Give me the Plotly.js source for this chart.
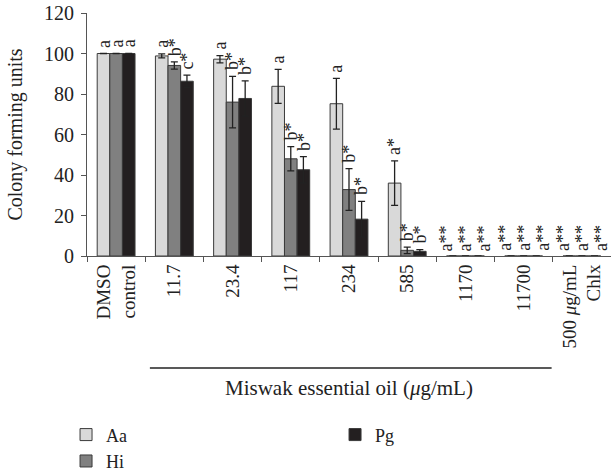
<!DOCTYPE html>
<html>
<head>
<meta charset="utf-8">
<script src="https://cdn.plot.ly/plotly-3.0.1.min.js"></script>
<style>html,body{margin:0;padding:0;background:#fff;}#chart{width:611px;height:472px;}</style>
</head>
<body>
<div id="chart"></div>
<script>
const categories = ["DMSO<br>control", "11.7", "23.4", "117", "234", "585", "1170", "11700", "500 <i>μ</i>g/mL<br>Chlx"];
const seriesNames = ["Aa", "Hi", "Pg"];
const aaValues = [100, 98.8, 97.2, 83.8, 75.2, 36, 0, 0, 0];
const aaErrors = [0, 1, 1.8, 8.4, 12.5, 11, 0, 0, 0];
const hiValues = [100, 94.1, 76, 48, 32.8, 2.8, 0, 0, 0];
const hiErrors = [0, 1.8, 12.7, 6, 10.3, 1.6, 0, 0, 0];
const pgValues = [100, 86.3, 77.8, 42.6, 18.2, 2.3, 0, 0, 0];
const pgErrors = [0, 3, 8.7, 6.5, 8.8, 0.8, 0, 0, 0];
const aaLabels = ["a", "a", "a", "a", "a", "a*", "a**", "a**", "a**"];
const hiLabels = ["a", "b*", "b*", "b*", "b*", "b*", "a**", "a**", "a**"];
const pgLabels = ["a", "c*", "b*", "b*", "b*", "b*", "a**", "a**", "a**"];
const xTitle = "Miswak essential oil (<i>μ</i>g/mL)";
const yTitle = "Colony forming units";

const FONT = "Liberation Serif, Times New Roman, serif";
const colors = ["#d9d9d9", "#808080", "#231f20"];
const values = [aaValues, hiValues, pgValues];
const errors = [aaErrors, hiErrors, pgErrors];
const labels = [aaLabels, hiLabels, pgLabels];
const ranks = [1, 3, 2];

const W = 611, H = 472, M = {l: 87, r: 0, t: 13, b: 216, autoexpand: false};
const bargap = 0.35;
const catPx = (W - M.l - M.r) / categories.length;
const barPx = catPx * (1 - bargap) / 3;
const emptyLabelPx = 19;

const traces = seriesNames.map((name, s) => ({
  type: "bar",
  name: name,
  x: categories,
  y: values[s],
  legendrank: ranks[s],
  marker: {color: colors[s], line: {color: "#3a3a3a", width: 1}},
  error_y: {type: "data", array: errors[s], visible: true, color: "#222", thickness: 1.3, width: 3.5},
  hoverinfo: "skip"
}));

const annotations = [];
seriesNames.forEach((name, s) => {
  categories.forEach((c, i) => {
    const empty = values.every(v => v[i] === 0);
    annotations.push({
      x: i, y: values[s][i] + errors[s][i], xref: "x", yref: "y",
      text: labels[s][i], showarrow: false, textangle: -90,
      xanchor: "center", yanchor: "bottom",
      xshift: (s - 1) * (empty ? emptyLabelPx : barPx), yshift: empty ? 3 : 4,
      font: {family: FONT, size: 18, color: "#222"}
    });
  });
});
annotations.push({
  x: 0.5, y: -0.545, xref: "paper", yref: "paper", showarrow: false,
  text: xTitle, xanchor: "center", yanchor: "middle",
  font: {family: FONT, size: 21, color: "#222"}
});

const layout = {
  width: W, height: H,
  margin: M,
  paper_bgcolor: "#fff", plot_bgcolor: "#fff",
  font: {family: FONT, size: 19, color: "#222"},
  barmode: "group",
  bargap: bargap,
  bargroupgap: 0,
  showlegend: true,
  legend: {
    orientation: "h", x: -0.04, xanchor: "left", y: -0.66, yanchor: "top",
    entrywidth: 224, entrywidthmode: "pixels", traceorder: "normal",
    font: {family: FONT, size: 18, color: "#222"}, itemclick: false
  },
  xaxis: {
    type: "category",
    range: [-0.5, categories.length - 0.5],
    tickangle: -90,
    showline: true, linecolor: "#555", linewidth: 1,
    ticks: "outside", tickson: "boundaries", ticklen: 5, tickcolor: "#555",
    showgrid: false, zeroline: false,
    tickfont: {family: FONT, size: 19, color: "#222"},
    fixedrange: true
  },
  yaxis: {
    range: [0, 120], dtick: 20,
    showline: true, linecolor: "#555", linewidth: 1,
    ticks: "outside", ticklen: 5, tickcolor: "#555", ticklabelstandoff: 3,
    showgrid: false, zeroline: false,
    tickfont: {family: FONT, size: 20, color: "#222"},
    title: {text: yTitle, font: {family: FONT, size: 20, color: "#222"}, standoff: 16},
    fixedrange: true
  },
  shapes: [{
    type: "line", xref: "x", yref: "paper",
    x0: 0.58, x1: 7.48, y0: -0.461, y1: -0.461,
    line: {color: "#222", width: 1.3}
  }],
  annotations: annotations
};

Plotly.newPlot("chart", traces, layout, {displayModeBar: false, staticPlot: true});
</script>
</body>
</html>
